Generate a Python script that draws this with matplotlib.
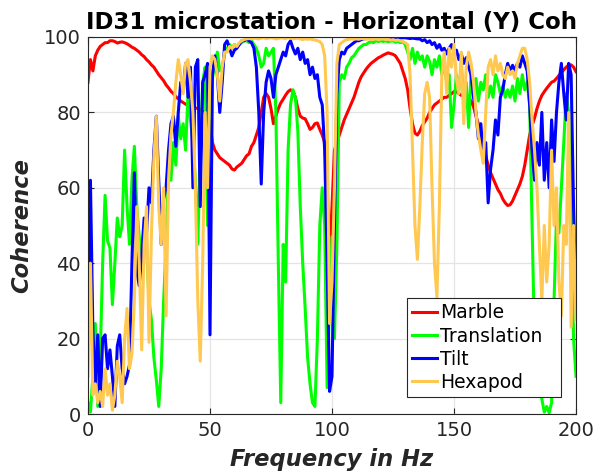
import matplotlib
matplotlib.use('Agg')
import matplotlib.pyplot as plt

# Frequency grid (Hz)
freq = list(range(0, 201))

marble = [
    88, 94, 91, 95, 96.5, 97.5, 98, 98.5, 98.5, 99,
    99, 98.8, 98.4, 98.6, 98.7, 98.5, 98.2, 97.8, 97.3, 97,
    96.5, 96, 95.3, 94.8, 94, 93.4, 92.6, 92, 91, 90,
    89.2, 88.4, 87.3, 86.5, 85.6, 85, 84.2, 83.6, 83, 82.6,
    82.2, 81.8, 81.5, 81.3, 81.2, 81, 80.8, 80.2, 80, 79.5,
    77, 72, 70, 69, 68, 67.5, 67, 66.5, 66, 65,
    64.7, 65.5, 66, 66.5, 67.5, 68.5, 69, 71, 72, 74,
    76, 80, 84, 85, 84, 81, 77, 79, 81, 82.5,
    83.5, 84.6, 85.5, 86, 85.5, 84, 81, 79, 78.5, 78.3,
    77, 75.5, 76, 77, 77.2, 75.5, 74, 72, 60, 42,
    55, 70, 72, 74, 76, 78, 79.5, 81, 82.5, 84,
    86, 88, 89.5, 90.5, 91.5, 92.3, 93, 93.5, 94, 94.5,
    94.8, 95.2, 95.5, 95.8, 95.6, 95.4, 95, 94, 93, 91,
    89, 86, 81, 77, 74.5, 74, 75, 76.5, 77.5, 78.5,
    80, 81, 82, 82.5, 83, 83.5, 84, 84, 84.5, 85,
    85.5, 85.5, 85, 84.5, 85, 84.5, 84, 83, 81.5, 79,
    77, 74, 71, 68.5, 66, 64, 62.5, 61, 59.5, 58.5,
    57, 56, 55.3, 55.5, 56.5, 58, 59.5, 61, 63, 66,
    70, 74, 76.5, 78.5, 81, 83, 84.5, 85.5, 86.4, 87.2,
    88, 88.3, 89, 89.8, 90.5, 91.3, 92, 92.6, 92.6, 92, 90.8,
]

translation = [
    3, 0.5, 10, 24, 2, 15, 40, 58, 46, 44,
    29, 40, 52, 47, 50, 70, 55, 45, 62, 71,
    55, 47, 40, 50, 45, 30, 25, 15, 9, 2,
    12, 30, 45, 65, 62, 72, 66, 79, 73, 77,
    70, 85, 78, 72, 62, 45, 70, 88, 92, 50,
    91, 89, 93, 96, 91, 92, 96, 97, 98, 97,
    98, 97.5, 98, 98.5, 99, 99, 98.5, 99, 98, 97,
    95, 92, 93, 97, 95, 96, 97, 80, 40, 3,
    45, 35, 70, 82, 86, 84, 75, 55, 40, 28,
    15, 8, 3, 2, 20, 50, 60, 50, 7, 30,
    47, 20, 45, 88, 90, 89, 92, 93, 94.5, 95,
    96, 97, 97.5, 98, 98, 98.5, 98.7, 98.5, 99, 98.8,
    99, 98.8, 99, 98.7, 98.9, 99, 98.6, 98.8, 98.5, 98.7,
    98, 96, 94, 97, 93, 96, 94, 95, 92, 95,
    93.5, 90, 94, 92, 95, 90, 93, 88, 90, 76,
    82, 90, 86, 92, 84, 88, 76, 91, 85, 89,
    83, 88, 86, 90, 84, 87, 84, 90, 88, 85,
    87, 84, 86, 84, 87, 83, 89, 85, 90, 86,
    88, 82, 50, 20, 15, 8, 4, 0.5, 2, 0.3,
    3, 30, 52, 48, 60, 72, 85, 80, 60, 20, 10,
]

tilt = [
    25, 62, 22, 8, 21, 2, 20, 21, 12, 17,
    10, 2, 18, 21, 12, 8, 10, 13, 40, 64,
    38, 34, 42, 52, 48, 60, 56, 70, 79, 62,
    45, 57, 60, 70, 77, 79, 71, 80, 88, 86,
    93, 84, 92, 60, 92, 94, 55, 88, 90, 93,
    21, 90, 95, 90, 80, 88, 98, 99, 97, 95,
    96.5, 97, 98, 99, 99, 99.5, 99, 98.5, 97, 92,
    80, 61, 80, 88, 91, 89, 84, 90, 92, 94,
    96, 95, 98, 99, 97, 95.5, 97, 94, 96, 93,
    94, 90, 92, 89, 90, 84, 82, 70, 40, 6,
    10, 50, 85, 94, 96, 95.5, 97, 97.5, 98, 98.5,
    99, 99, 99.3, 99.5, 99.6, 99.7, 99.7, 99.8, 99.8, 99.8,
    99.8, 99.9, 99.9, 99.8, 99.8, 99.9, 99.9, 99.8, 99.7, 99.8,
    99.8, 99.7, 99.6, 99.7, 99.6, 99.5, 99.5, 99, 99.3, 98.5,
    99, 98, 98.5, 97, 98, 96.5, 97, 95.5, 97, 98,
    96, 96.5, 94, 95.5, 93, 94.5, 92, 90, 84, 80,
    73, 77, 68, 72, 56, 65, 70, 78, 74, 84,
    86, 90, 93, 91, 92.5, 91, 93, 92, 95, 93,
    91, 82, 70, 62, 72, 66, 80, 62, 72, 60,
    78, 67, 80, 88, 93, 85, 78, 93, 90, 55, 30,
]

hexapod = [
    10, 40, 5, 8, 3, 6, 2, 12, 5, 8,
    1, 5, 14, 10, 3, 20, 28, 12, 16, 30,
    55, 40, 17, 45, 55, 19, 48, 68, 79, 55,
    45, 60, 26, 62, 74, 80, 88, 94, 90, 85,
    93, 94, 88, 80, 60, 30, 14, 40, 80, 60,
    92, 95, 94, 90, 83, 92, 96, 96, 97.5, 97,
    98, 97.5, 98.5, 99, 99.3, 99.5, 99.6, 99.5, 99.7, 99.6,
    99.5, 99.7, 99.8, 99.6, 99.7, 99.8, 99.7, 99.5, 99.6, 99.8,
    99.7, 99.6, 99.8, 99.7, 99.5, 99.6, 99.7, 99.5, 99.3, 99.5,
    99.4, 99.5, 99.3, 99.2, 99, 98.8, 98, 95, 80, 24,
    35, 60, 93, 98, 98.5, 99, 99.3, 99.4, 99.5, 99.4,
    99.5, 99.4, 99.6, 99.5, 99.4, 99.5, 99.3, 99.4, 99.5, 99.3,
    99.4, 99.5, 99.3, 99.4, 99.2, 99.3, 99.1, 99.2, 99, 98.8,
    98.5, 98, 90, 70, 50, 41, 55, 72, 85, 88,
    84, 60, 40, 31, 55, 90, 96, 85, 97, 92,
    98, 89, 85, 96, 77, 92, 96, 93, 88, 80,
    74, 70, 66.5, 80, 92, 94, 90, 95, 91, 93,
    90, 89, 92, 90, 91, 89, 93, 95, 97, 97,
    94, 88, 78, 70, 60, 45, 30, 50, 35, 45,
    70, 50, 60, 35, 26, 50, 45, 80, 23, 50, 25,
]

series_labels = ['Marble', 'Translation', 'Tilt', 'Hexapod']
series_colors = ['#ff0000', '#00ff00', '#0000ff', '#ffc851']
x_ticks = [0, 50, 100, 150, 200]
y_ticks = [0, 20, 40, 60, 80, 100]

fig = plt.figure(figsize=(5.95, 4.75), dpi=100)
ax = fig.add_axes([88 / 595, 61 / 475, 488 / 595, 377 / 475])

for data, lab, col in zip([marble, translation, tilt, hexapod], series_labels, series_colors):
    ax.plot(freq, data, color=col, lw=2.2, label=lab)

ax.set_xlim(0, 200)
ax.set_ylim(0, 100)
ax.set_xticks(x_ticks)
ax.set_yticks(y_ticks)
ax.grid(True, color='#e4e4e4', lw=0.9)
ax.set_axisbelow(True)
ax.tick_params(direction='in', top=True, right=True, length=4, width=0.8,
               labelsize=14, colors='#262626', pad=5)
for sp in ax.spines.values():
    sp.set_color('#262626')
    sp.set_linewidth(0.8)

ax.set_title('ID31 microstation - Horizontal (Y) Coh', fontsize=16.5,
             fontweight='bold', pad=6)
ax.set_xlabel('Frequency in Hz', fontsize=16.3, fontweight='bold',
              fontstyle='italic', color='#262626', labelpad=6)
ax.set_ylabel('Coherence', fontsize=16.3, fontweight='bold',
              fontstyle='italic', color='#262626')
ax.yaxis.set_label_coords(-0.113, 0.5)

leg = ax.legend(loc='lower left', bbox_to_anchor=(0.6537, 0.045, 0.3156, 0.2),
                mode='expand', borderaxespad=0,
                fontsize=13.5, handlelength=1.3, handletextpad=0.2,
                labelspacing=0.22, borderpad=0.28, fancybox=False, framealpha=1)
leg.get_frame().set_edgecolor('#262626')
leg.get_frame().set_linewidth(0.8)

fig.savefig('out.png', dpi=100)
